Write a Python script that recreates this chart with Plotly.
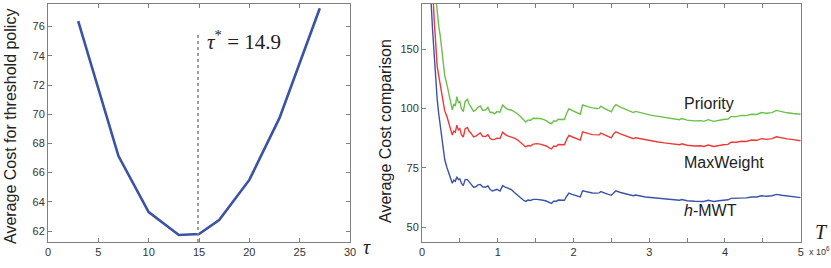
import plotly.graph_objects as go

# ---------------- data ----------------
tau = [3, 7, 10, 13, 15, 17, 20, 23, 27]
threshold_cost = [76.37, 67.14, 63.3, 61.73, 61.8, 62.75, 65.5, 69.75, 77.26]
tau_star = 14.9
tau_star_top = 75.6

T_millions = [0.10, 0.12, 0.14, 0.16, 0.18, 0.20, 0.22, 0.24, 0.26, 0.28, 0.30, 0.33, 0.36,
              0.40, 0.42, 0.44, 0.46, 0.48, 0.50, 0.52, 0.545, 0.57, 0.60, 0.62, 0.65, 0.68,
              0.71, 0.74, 0.77, 0.80, 0.84, 0.87, 0.90, 0.93, 0.96, 0.99, 1.03, 1.065, 1.10,
              1.14, 1.18, 1.22, 1.26, 1.30, 1.34, 1.37, 1.40, 1.43, 1.47, 1.52, 1.56, 1.60,
              1.64, 1.68, 1.71, 1.74, 1.77, 1.80, 1.84, 1.88, 1.91, 1.94, 1.98, 2.02, 2.06,
              2.09, 2.12, 2.16, 2.20, 2.25, 2.30, 2.34, 2.36, 2.40, 2.45, 2.50, 2.53, 2.56,
              2.62, 2.68, 2.74, 2.79, 2.82, 2.88, 2.95, 3.02, 3.10, 3.20, 3.30, 3.40, 3.43,
              3.50, 3.60, 3.68, 3.72, 3.78, 3.85, 3.92, 3.98, 4.04, 4.08, 4.15, 4.22, 4.28,
              4.35, 4.42, 4.48, 4.55, 4.62, 4.68, 4.75, 4.82, 4.90, 5.00]

priority = [230, 200, 175, 158, 148, 141, 135, 131, 125, 118, 114, 110, 105,
            99.4, 102, 101, 105, 102.5, 103, 100, 98.7, 103, 103.9, 102, 100.5, 98.8,
            99.4, 100.5, 101.1, 99.3, 99.4, 100.5, 98.3, 98.4, 97.8, 98.7, 98.5, 101.5, 100.4,
            99.6, 99.4, 98.6, 97.8, 96.6, 95.2, 94.3, 95.2, 95.0, 95.9, 96.0, 95.8, 95.4,
            94.9, 94.0, 93.6, 94.8, 94.6, 95.5, 95.4, 95.4, 98.0, 99.9, 99.2, 98.6, 98.1,
            97.6, 101.5, 101.0, 100.7, 100.3, 100.0, 100.2, 101.0, 100.2, 99.4, 98.6, 100.5, 101.6,
            100.6, 99.7, 99.0, 98.3, 98.8, 98.3, 97.6, 97.2, 96.8, 96.3, 95.8, 95.3, 95.8,
            95.1, 94.8, 94.9, 94.6, 95.3, 94.6, 95.1, 95.4, 95.6, 96.6, 96.6, 97.1, 97.0,
            97.6, 97.5, 98.3, 98.0, 98.3, 99.2, 98.6, 98.2, 97.9, 97.6]

maxweight = [200, 170, 152, 138, 127, 118, 114, 110, 106, 102, 99, 96.5, 93,
             88.8, 90.5, 90, 93, 91, 91.5, 89, 88, 91.5, 92, 90.5, 89.5, 88,
             88.4, 89.2, 89.7, 88.3, 88.2, 89, 87.4, 86.9, 87, 87.5, 87.4, 90, 89,
             88.4, 88, 87.5, 86.8, 85.6, 84.5, 83.8, 84.4, 84.2, 85.0, 85.2, 85.0, 84.6,
             84.2, 83.4, 83.0, 84.2, 84.0, 84.8, 84.7, 84.7, 87.0, 88.7, 88.1, 87.6, 87.1,
             86.7, 90.2, 89.7, 89.4, 89.0, 88.8, 88.9, 89.6, 89.0, 88.3, 87.6, 89.3, 90.2,
             89.3, 88.5, 87.9, 87.3, 87.7, 87.3, 86.7, 86.3, 86.0, 85.5, 85.1, 84.7, 85.1,
             84.5, 84.2, 84.3, 84.0, 84.6, 84.0, 84.5, 84.7, 84.9, 85.8, 85.8, 86.2, 86.1,
             86.7, 86.6, 87.3, 87.0, 87.3, 88.1, 87.6, 87.2, 86.9, 86.4]

h_mwt = [170, 145, 133, 122, 112, 104, 98, 93, 87, 82, 78.5, 75, 72,
         68.5, 69.8, 69.3, 71.2, 70, 70.3, 68.5, 67.5, 70, 70, 69, 68, 66.8,
         67, 67.8, 68, 67, 66.8, 67.4, 65.8, 65.2, 65.5, 65.9, 65.2, 67.5, 66.8,
         66.2, 65.8, 64.6, 63.5, 62.3, 61.3, 60.8, 61.4, 61.2, 61.7, 61.7, 61.6, 61.3,
         61.0, 60.4, 60.0, 61.0, 60.8, 61.4, 61.3, 61.3, 63.0, 64.3, 63.8, 63.4, 63.0,
         62.7, 65.3, 65.0, 64.8, 64.4, 64.3, 64.4, 65.0, 64.4, 63.9, 63.4, 64.6, 65.3,
         64.6, 64.0, 63.6, 63.2, 63.5, 63.1, 62.7, 62.5, 62.2, 61.9, 61.6, 61.3, 61.6,
         61.1, 60.9, 61.0, 60.8, 61.3, 60.8, 61.1, 61.3, 61.5, 62.1, 62.1, 62.4, 62.3,
         62.7, 62.7, 63.2, 63.0, 63.2, 63.8, 63.4, 63.1, 62.9, 62.4]

series_names = ["Priority", "MaxWeight", "<i>h</i>-MWT"]
label_x = [3.43, 3.43, 3.43]
label_y = [102.3, 77.4, 57.2]

left_xticks = [0, 5, 10, 15, 20, 25, 30]
left_yticks = [62, 64, 66, 68, 70, 72, 74, 76]
right_xticks = [0, 1, 2, 3, 4, 5]
right_ytick_vals = [50, 75, 100, 125]
right_ytick_text = ["50", "75", "100", "150"]
right_side_ticks = [74.1, 115.1]

# ---------------- figure ----------------
W, H = 831, 268
def px(x):
    return x / W
def py(y):
    return 1 - y / H

fig = go.Figure()

fig.add_trace(go.Scatter(x=tau, y=threshold_cost, mode="lines",
                         line=dict(color="#3a53a4", width=2.6),
                         xaxis="x", yaxis="y", showlegend=False))
fig.add_trace(go.Scatter(x=[tau_star, tau_star], y=[61.25, tau_star_top], mode="lines",
                         line=dict(color="#8a8a8a", width=1.6, dash="dot"),
                         xaxis="x", yaxis="y", showlegend=False))

colors = ["#6cc04a", "#ee3a36", "#3a53a8"]
for vals, col in zip([priority, maxweight, h_mwt], colors):
    fig.add_trace(go.Scatter(x=T_millions, y=vals, mode="lines",
                             line=dict(color=col, width=1.4),
                             xaxis="x2", yaxis="y2", showlegend=False, cliponaxis=True))

tickfont = dict(family="Liberation Sans, Arial, sans-serif", size=11, color="#333333")
axcol = "#808080"

fig.update_layout(
    width=W, height=H,
    margin=dict(l=0, r=0, t=0, b=0),
    paper_bgcolor="white", plot_bgcolor="white",
    xaxis=dict(domain=[px(48), px(350)], range=[0, 30], tickvals=left_xticks,
               showline=True, mirror="ticks", linecolor=axcol, linewidth=1,
               ticks="inside", ticklen=4, tickcolor=axcol, showgrid=False, zeroline=False,
               tickfont=tickfont, anchor="y", automargin=False),
    yaxis=dict(domain=[py(242), py(4)], range=[61.25, 77.55], tickvals=left_yticks,
               showline=True, mirror="ticks", linecolor=axcol, linewidth=1,
               ticks="inside", ticklen=4, tickcolor=axcol, showgrid=False, zeroline=False,
               tickfont=tickfont, anchor="x", automargin=False),
    xaxis2=dict(domain=[px(422), px(800.7)], range=[0, 5], tickvals=right_xticks,
                showline=True, mirror="ticks", linecolor=axcol, linewidth=1,
                ticks="inside", ticklen=4, tickcolor=axcol, showgrid=False, zeroline=False,
                minor=dict(ticks="inside", dtick=0.5, ticklen=4, tickcolor=axcol),
                tickfont=tickfont, anchor="y2", automargin=False),
    yaxis2=dict(domain=[py(242), py(4)], range=[43.7, 144.1], tickvals=right_ytick_vals,
                ticktext=right_ytick_text,
                showline=True, mirror=True, linecolor=axcol, linewidth=1,
                ticks="inside", ticklen=4, tickcolor=axcol, showgrid=False, zeroline=False,
                tickfont=tickfont, anchor="x2", automargin=False),
    yaxis3=dict(domain=[py(242), py(4)], range=[43.7, 144.1], tickvals=right_side_ticks,
                showticklabels=False, overlaying="y2", side="right", anchor="x2",
                ticks="inside", ticklen=4, tickcolor=axcol, showline=False,
                showgrid=False, zeroline=False, automargin=False),
)

titlefont = dict(family="Liberation Sans, Arial, sans-serif", size=16, color="#222222")
ann = []
ann.append(dict(text="Average Cost for threshold policy", x=px(10), y=py(127),
                xref="paper", yref="paper", textangle=-90, showarrow=False,
                font=titlefont, xanchor="center", yanchor="middle"))
ann.append(dict(text="Average Cost comparison", x=px(385), y=py(131),
                xref="paper", yref="paper", textangle=-90, showarrow=False,
                font=titlefont, xanchor="center", yanchor="middle"))
serif = dict(family="Liberation Serif, DejaVu Serif, serif", size=21, color="#222222")
ann.append(dict(text="<i>τ</i><sup>*</sup> = 14.9", x=px(205), y=py(40),
                xref="paper", yref="paper", showarrow=False, font=serif,
                xanchor="left", yanchor="middle"))
ann.append(dict(text="<i>τ</i>", x=px(367), y=py(247), xref="paper", yref="paper",
                showarrow=False, font=dict(family="Liberation Serif, serif", size=20, color="#222"),
                xanchor="center", yanchor="middle"))
ann.append(dict(text="<i>T</i>", x=px(821), y=py(232), xref="paper", yref="paper",
                showarrow=False, font=dict(family="Liberation Serif, serif", size=20, color="#222"),
                xanchor="center", yanchor="middle"))
ann.append(dict(text="x 10<sup>6</sup>", x=px(807), y=py(251), xref="paper", yref="paper",
                showarrow=False, font=dict(family="Liberation Sans, Arial, sans-serif", size=9, color="#333"),
                xanchor="left", yanchor="middle"))
for name, lx, ly in zip(series_names, label_x, label_y):
    ann.append(dict(text=name, x=lx, y=ly, xref="x2", yref="y2", showarrow=False,
                    font=titlefont, xanchor="left", yanchor="middle"))
fig.update_layout(annotations=ann)

fig.write_html("out.html", config={"displayModeBar": False},
               post_script="document.body.style.margin='0';document.body.style.overflow='hidden';")
